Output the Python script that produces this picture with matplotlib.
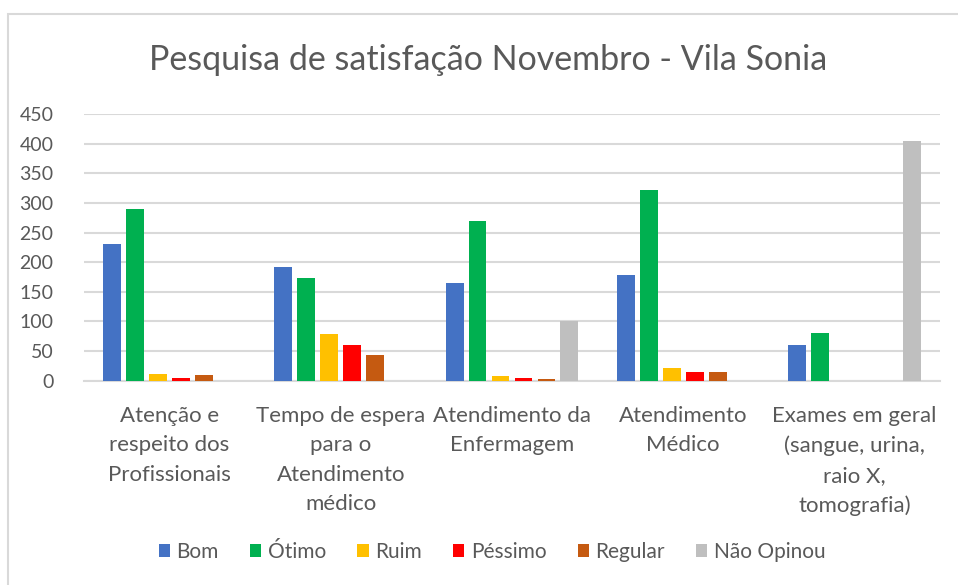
import matplotlib
matplotlib.use("Agg")
import matplotlib.pyplot as plt
import numpy as np
from matplotlib.patches import Rectangle

plt.rcParams['font.family'] = ['Lato', 'DejaVu Sans']

categories = ["Atenção e\nrespeito dos\nProfissionais",
              "Tempo de espera\npara o\nAtendimento\nmédico",
              "Atendimento da\nEnfermagem",
              "Atendimento\nMédico",
              "Exames em geral\n(sangue, urina,\nraio X,\ntomografia)"]
series_names = ["Bom", "Ótimo", "Ruim", "Péssimo", "Regular", "Não Opinou"]
bom = [231, 192, 165, 179, 60]
otimo = [289, 174, 270, 322, 81]
ruim = [12, 79, 8, 21, 0]
pessimo = [5, 60, 4, 14, 0]
regular = [10, 43, 3, 14, 0]
nao_opinou = [0, 0, 100, 0, 404]
colors = ["#4472C4", "#00B050", "#FFC000", "#FF0000", "#C55A11", "#BFBFBF"]
yticks = [0, 50, 100, 150, 200, 250, 300, 350, 400, 450]

series = [bom, otimo, ruim, pessimo, regular, nao_opinou]
text_color = "#595959"
grid_color = "#D9D9D9"

fig = plt.figure(figsize=(9.58, 5.85), dpi=100)
ax = fig.add_axes([84/958, 1-380.7/585, (940-84)/958, (380.7-114)/585])

x = np.arange(len(categories))
slot = 0.1343
width = 0.105
for j, (vals, name, c) in enumerate(zip(series, series_names, colors)):
    ax.bar(x + (j - 2.5) * slot, vals, width=width, color=c, label=name, zorder=3)

ax.set_xlim(-0.5, len(categories) - 0.5)
ax.set_ylim(0, 450)
ax.set_yticks(yticks)
ax.set_yticklabels([str(v) for v in yticks])
ax.yaxis.grid(True, color=grid_color, linewidth=1.5, zorder=0)
ax.set_axisbelow(True)
for s in ["top", "right", "left"]:
    ax.spines[s].set_visible(False)
ax.spines["bottom"].set_color(grid_color)
ax.spines["bottom"].set_linewidth(1.5)
ax.set_xticks(x)
ax.set_xticklabels(categories, linespacing=1.6, va='top')
ax.tick_params(axis='y', length=0, labelsize=14, labelcolor=text_color, pad=22)
ax.tick_params(axis='x', length=0, labelsize=16, labelcolor=text_color, pad=18)

fig.text(488/958, 1-60/585, "Pesquisa de satisfação Novembro - Vila Sonia",
         ha='center', va='center', fontsize=24.5, color=text_color)

leg = fig.legend(loc='center', bbox_to_anchor=(492/958, 1-552/585), ncol=6,
                 frameon=False, fontsize=15, handlelength=0.55, handleheight=0.55,
                 handletextpad=0.3, columnspacing=1.5)
for t in leg.get_texts():
    t.set_color(text_color)

fig.patches.append(Rectangle((8/958, -0.1), 1.2, 1 - 14/585 + 0.1, transform=fig.transFigure,
                             fill=False, edgecolor=grid_color, linewidth=1.5))

fig.savefig("out.png", dpi=100)
